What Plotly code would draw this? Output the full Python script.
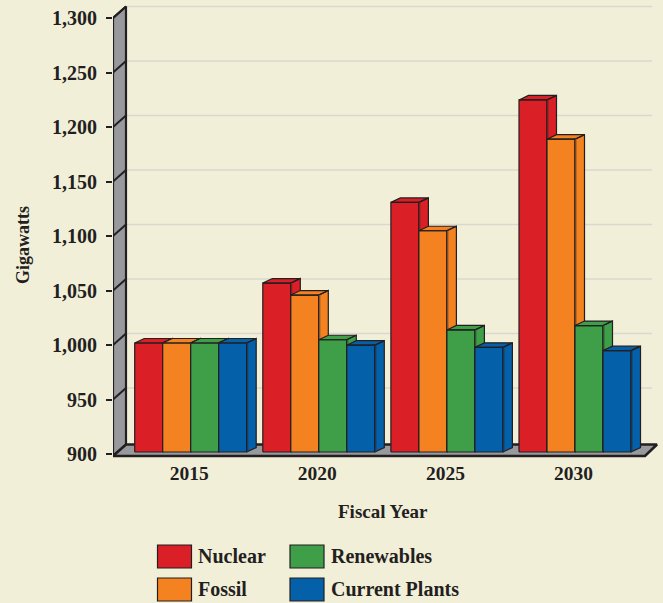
#! python3

# Projected electricity capacity by source, drawn with a fake 3D extrusion
import plotly.graph_objects as go

years = ['2015', '2020', '2025', '2030']
series_names = ['Nuclear', 'Fossil', 'Renewables', 'Current Plants']
nuclear = [1000, 1055, 1129, 1223]
fossil = [1000, 1044, 1103, 1187]
renewables = [1000, 1003, 1012, 1016]
current_plants = [1000, 998, 996, 993]
series_values = [nuclear, fossil, renewables, current_plants]
y_ticks = [900, 950, 1000, 1050, 1100, 1150, 1200, 1250, 1300]

colors = ['#DA1F26', '#F58220', '#3F9F49', '#0460A9']
edge_colors = ['#8E2327', '#9A5A22', '#2E6B36', '#123F6B']
BG = '#F2EFD9'
INK = '#231F20'
WALL = '#98999C'
GRID = '#D9D8D0'
FONT = 'Liberation Serif'

# plot area in pixels (taller than the ticks, fills get clipped to it)
LEFT, RIGHT, TOP, BOTTOM = 113, 663, 0, 459
PX_X = 128.1
PX_Y = (454 - 18) / (y_ticks[-1] - y_ticks[0])
X0 = (LEFT - 190.7) / PX_X
X1 = (RIGHT - 190.7) / PX_X
Y0 = y_ticks[0] - (BOTTOM - 454) / PX_Y
Y1 = y_ticks[-1] + (18 - TOP) / PX_Y

BAR_W = 28 / PX_X
BAR_DX = 9.5 / PX_X
BAR_DY = 4.5 / PX_Y
# bars sit on the floor, a little above the 900 tick
BAR_LIFT = 2 / PX_Y
WALL_DX = 13 / PX_X
WALL_DY = 11.5 / PX_Y
FLOOR = 900 - 2 / PX_Y
FLOOR_END = (645 - 190.7) / PX_X
FLOOR_BACK_END = (657 - 190.7) / PX_X
GRID_END = (652 - 190.7) / PX_X
YEAR_NUDGE = 1.5 / PX_X


def paper_x(px):
    return (px - LEFT) / (RIGHT - LEFT)


def paper_y(px):
    return (BOTTOM - px) / (BOTTOM - TOP)


def polygons(*shapes):
    xs, ys = [], []
    for shape in shapes:
        xs += [p[0] for p in shape] + [shape[0][0], None]
        ys += [p[1] for p in shape] + [shape[0][1], None]
    return xs, ys


def bar_faces(left, value):
    right = left + BAR_W
    base = y_ticks[0] + BAR_LIFT
    top_y = value + BAR_LIFT
    front = [(left, base), (right, base), (right, top_y), (left, top_y)]
    side = [(right, base), (right + BAR_DX, base + BAR_DY),
            (right + BAR_DX, top_y + BAR_DY), (right, top_y)]
    top = [(left, top_y), (right, top_y),
           (right + BAR_DX, top_y + BAR_DY), (left + BAR_DX, top_y + BAR_DY)]
    return front, side, top


fig = go.Figure()

# back wall gridlines
grid_x, grid_y = [], []
for v in y_ticks[1:]:
    grid_x += [X0 + WALL_DX, GRID_END, None]
    grid_y += [v + WALL_DY, v + WALL_DY, None]
fig.add_trace(go.Scatter(x=grid_x, y=grid_y, mode='lines', cliponaxis=False,
                         line=dict(color=GRID, width=1.5), hoverinfo='skip'))

# left wall and floor
wall_x, wall_y = polygons([(X0, FLOOR), (X0 + WALL_DX, FLOOR + WALL_DY),
                           (X0 + WALL_DX, y_ticks[-1] + WALL_DY), (X0, y_ticks[-1])])
fig.add_trace(go.Scatter(x=wall_x, y=wall_y, mode='lines', fill='toself', fillcolor=WALL,
                         cliponaxis=False, line=dict(color=INK, width=2.2), hoverinfo='skip'))
floor_x, floor_y = polygons([(X0, FLOOR), (FLOOR_END, FLOOR),
                             (FLOOR_BACK_END, FLOOR + WALL_DY), (X0 + WALL_DX, FLOOR + WALL_DY)])
fig.add_trace(go.Scatter(x=floor_x, y=floor_y, mode='lines', fill='toself', fillcolor=WALL,
                         cliponaxis=False, line=dict(color=INK, width=2.6), hoverinfo='skip'))

# diagonal tick marks across the wall
tick_x, tick_y = [], []
for v in y_ticks[1:]:
    tick_x += [X0, X0 + WALL_DX, None]
    tick_y += [v, v + WALL_DY, None]
fig.add_trace(go.Scatter(x=tick_x, y=tick_y, mode='lines', cliponaxis=False,
                         line=dict(color=INK, width=2), hoverinfo='skip'))

# bars, left to right so each one covers the side of the one before
for j, name in enumerate(series_names):
    faces = []
    edge_x, edge_y = [], []
    for i, value in enumerate(series_values[j]):
        left = i + (j - 2) * BAR_W
        faces += bar_faces(left, value)
        edge_x += [left + BAR_W + 1 / PX_X, left + BAR_W + 1 / PX_X, None]
        edge_y += [y_ticks[0] + BAR_LIFT, value + BAR_LIFT, None]
    xs, ys = polygons(*faces)
    fig.add_trace(go.Scatter(x=xs, y=ys, name=name, mode='lines', fill='toself',
                             fillcolor=colors[j], cliponaxis=False,
                             line=dict(color=INK, width=1.2), hoverinfo='skip'))
    # darker band where the front meets the side
    fig.add_trace(go.Scatter(x=edge_x, y=edge_y, mode='lines', cliponaxis=False,
                             line=dict(color=edge_colors[j], width=1.2), hoverinfo='skip'))

# legend swatches and labels, placed by hand in two columns
legend_cols = [(157.5, 196), (290, 329)]
legend_rows = [(545, 568), (578, 601)]
for j, name in enumerate(series_names):
    col = legend_cols[j // 2]
    row = legend_rows[j % 2]
    fig.add_shape(type='rect', xref='paper', yref='paper',
                  x0=paper_x(col[0]), x1=paper_x(col[0] + 34),
                  y0=paper_y(row[0]), y1=paper_y(row[1]),
                  fillcolor=colors[j], line=dict(color=INK, width=1.2))
    fig.add_annotation(text=name, xref='paper', yref='paper', showarrow=False,
                       x=paper_x(col[1]), xanchor='left',
                       y=paper_y((row[0] + row[1]) / 2 - 1), yanchor='middle',
                       font=dict(family=FONT, size=20, color=INK, weight=700))

fig.add_annotation(text='Gigawatts', xref='paper', yref='paper', showarrow=False,
                   x=paper_x(23), y=paper_y(245), textangle=-90,
                   xanchor='center', yanchor='middle',
                   font=dict(family=FONT, size=18, color=INK, weight=700))
fig.add_annotation(text='Fiscal Year', xref='paper', yref='paper', showarrow=False,
                   x=paper_x(383), y=paper_y(512), xanchor='center', yanchor='middle',
                   font=dict(family=FONT, size=19, color=INK, weight=700))

fig.update_layout(
    width=663, height=603, autosize=False, showlegend=False,
    paper_bgcolor=BG, plot_bgcolor=BG,
    margin=dict(l=LEFT, r=663 - RIGHT, t=TOP, b=603 - BOTTOM, pad=0),
)
fig.update_xaxes(range=[X0, X1], tickvals=[i - YEAR_NUDGE for i in range(len(years))],
                 ticktext=years,
                 showgrid=False, zeroline=False, showline=False, ticks='',
                 tickfont=dict(family=FONT, size=19.5, color=INK, weight=700))
fig.update_yaxes(range=[Y0, Y1], tickvals=y_ticks,
                 ticktext=[f'{v:,}' for v in y_ticks],
                 showgrid=False, zeroline=False, showline=False,
                 ticks='outside', ticklen=6, tickwidth=2, tickcolor=INK,
                 ticklabelstandoff=5,
                 tickfont=dict(family=FONT, size=20, color=INK, weight=700))

# the page's default body margin would push the chart 8px off the window
fig.write_html("out.html", config=dict(displayModeBar=False),
               post_script="document.body.style.margin='0';")
